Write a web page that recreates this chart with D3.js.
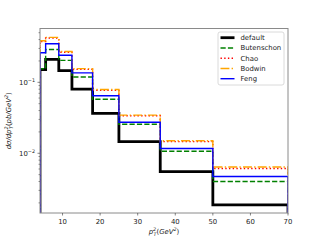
<!DOCTYPE html>
<html>
<head>
<meta charset="utf-8">
<script src="https://cdn.jsdelivr.net/npm/d3@7"></script>
<style>
  body { margin: 0; background: #fff; }
  svg { font-family: "DejaVu Sans", sans-serif; }
</style>
</head>
<body>
<svg width="320" height="240"></svg>
<script>
// bin edges in pT^2 (GeV^2)
var edges = [4, 5.5, 9, 12.5, 18, 25, 36, 50, 70]

// dsigma/dpT^2 per bin for each model
var vDefault    = [0.151, 0.21, 0.146, 0.080, 0.0366, 0.0146, 0.0055, 0.00187]
var vButenschon = [0.155, 0.29, 0.204, 0.119, 0.0576, 0.0256, 0.0107, 0.0040]
var vChao       = [0.375, 0.42, 0.265, 0.152, 0.077, 0.0338, 0.0146, 0.0061]
var vBodwin     = [0.385, 0.43, 0.272, 0.156, 0.079, 0.0345, 0.0150, 0.0064]
var vFeng       = [0.261, 0.35, 0.240, 0.136, 0.0648, 0.0274, 0.0117, 0.0047]

var xTicks = [10, 20, 30, 40, 50, 60, 70]
var yMajor = [1e-2, 1e-1]

var series = [
	{name: "default",    vals: vDefault,    color: "black",   width: 2.8, dash: null},
	{name: "Butenschon", vals: vButenschon, color: "green",   width: 1.4, dash: "5.2,2.2"},
	{name: "Chao",       vals: vChao,       color: "red",     width: 1.4, dash: "1.4,2.3"},
	{name: "Bodwin",     vals: vBodwin,     color: "orange",  width: 1.4, dash: "8.9,2.2,1.4,2.2"},
	{name: "Feng",       vals: vFeng,       color: "blue",    width: 1.4, dash: null}
]

var svg = d3.select("svg")
var sx = 40, ex = 288, sy = 28.5, ey = 213

var x = d3.scaleLinear().domain([4, 70]).range([sx, ex])
var y = d3.scaleLog().domain([0.00144, 0.573]).range([ey, sy])

svg.append("clipPath").attr("id", "clip")
	.append("rect").attr("x", sx).attr("y", sy).attr("width", ex - sx).attr("height", ey - sy)

var plot = svg.append("g").attr("clip-path", "url(#clip)")

var line = d3.line()
	.x(function(d){ return x(d[0]) })
	.y(function(d){ return y(d[1]) })
	.curve(d3.curveStepAfter)

series.forEach(function(s){
	var pts = [[edges[0], 1e-5]]
	for (let i = 0; i < s.vals.length; i++) {
		pts.push([edges[i], s.vals[i]])
	}
	pts.push([edges[edges.length-1], s.vals[s.vals.length-1]])
	pts.push([edges[edges.length-1], 1e-5])
	plot.append("path")
		.attr("d", line(pts))
		.attr("fill", "none")
		.attr("stroke", s.color)
		.attr("stroke-width", s.width)
		.attr("stroke-dasharray", s.dash)
		.attr("stroke-linejoin", "miter")
})

// frame
svg.append("rect")
	.attr("x", sx).attr("y", sy).attr("width", ex - sx).attr("height", ey - sy)
	.attr("fill", "none").attr("stroke", "#8a8a8a").attr("stroke-width", 1)

// x ticks
xTicks.forEach(function(t){
	svg.append("line")
		.attr("x1", x(t)).attr("x2", x(t)).attr("y1", ey).attr("y2", ey + 2.5)
		.attr("stroke", "#333").attr("stroke-width", 0.6)
	svg.append("text")
		.attr("x", x(t)).attr("y", ey + 10.5)
		.attr("text-anchor", "middle").attr("font-size", 6.9).attr("fill", "#222")
		.text(t)
})

// y ticks, major and minor
var minor = []
for (let e = -3; e <= -1; e++) {
	for (let k = 2; k <= 9; k++) {
		var v = k * Math.pow(10, e)
		if (v > y.domain()[0] && v < y.domain()[1]) minor.push(v)
	}
}
minor.forEach(function(v){
	svg.append("line")
		.attr("x1", sx - 1.5).attr("x2", sx).attr("y1", y(v)).attr("y2", y(v))
		.attr("stroke", "#333").attr("stroke-width", 0.5)
})
yMajor.forEach(function(v){
	svg.append("line")
		.attr("x1", sx - 2.5).attr("x2", sx).attr("y1", y(v)).attr("y2", y(v))
		.attr("stroke", "#333").attr("stroke-width", 0.6)
	var t = svg.append("text")
		.attr("x", sx - 5).attr("y", y(v) + 2.5)
		.attr("text-anchor", "end").attr("font-size", 6.9).attr("fill", "#222")
	t.append("tspan").text("10")
	t.append("tspan").attr("dy", -3).attr("font-size", 4.9).text("\u2212" + Math.round(-Math.log10(v)))
})

// axis labels
var xl = svg.append("text")
	.attr("x", (sx + ex) / 2).attr("y", 234)
	.attr("text-anchor", "middle").attr("font-size", 6.9).attr("fill", "#222")
xl.append("tspan").attr("font-style", "italic").text("p")
xl.append("tspan").attr("font-style", "italic").attr("font-size", 4.9).attr("dy", -2.8).text("2")
xl.append("tspan").attr("font-style", "italic").attr("font-size", 4.9).attr("dx", -2.7).attr("dy", 4.5).text("T")
xl.append("tspan").attr("dy", -1.7).text("(")
xl.append("tspan").attr("font-style", "italic").text("GeV")
xl.append("tspan").attr("font-style", "italic").attr("font-size", 4.9).attr("dy", -2.8).text("2")
xl.append("tspan").attr("dy", 2.8).text(")")

var yl = svg.append("text")
	.attr("transform", "translate(11," + ((sy + ey) / 2) + ") rotate(-90)")
	.attr("text-anchor", "middle").attr("font-size", 6.9).attr("fill", "#222")
yl.append("tspan").attr("font-style", "italic").text("d\u03c3/dp")
yl.append("tspan").attr("font-style", "italic").attr("font-size", 4.9).attr("dy", -2.8).text("2")
yl.append("tspan").attr("font-style", "italic").attr("font-size", 4.9).attr("dx", -2.7).attr("dy", 4.5).text("T")
yl.append("tspan").attr("dy", -1.7).text("(")
yl.append("tspan").attr("font-style", "italic").text("pb/GeV")
yl.append("tspan").attr("font-style", "italic").attr("font-size", 4.9).attr("dy", -2.8).text("2")
yl.append("tspan").attr("dy", 2.8).text(")")

// legend
var lg = svg.append("g").attr("transform", "translate(218,32)")
lg.append("rect")
	.attr("width", 66).attr("height", 53).attr("rx", 2)
	.attr("fill", "white").attr("fill-opacity", 0.8)
	.attr("stroke", "#d0d0d0").attr("stroke-width", 0.8)
series.forEach(function(s, i){
	var yy = 5.7 + i * 10.25
	lg.append("line")
		.attr("x1", 2.5).attr("x2", 16.5).attr("y1", yy).attr("y2", yy)
		.attr("stroke", s.color).attr("stroke-width", s.width)
		.attr("stroke-dasharray", s.dash)
	lg.append("text")
		.attr("x", 22.5).attr("y", yy + 2.5)
		.attr("font-size", 6.9).attr("fill", "#222")
		.text(s.name)
})
</script>
</body>
</html>
